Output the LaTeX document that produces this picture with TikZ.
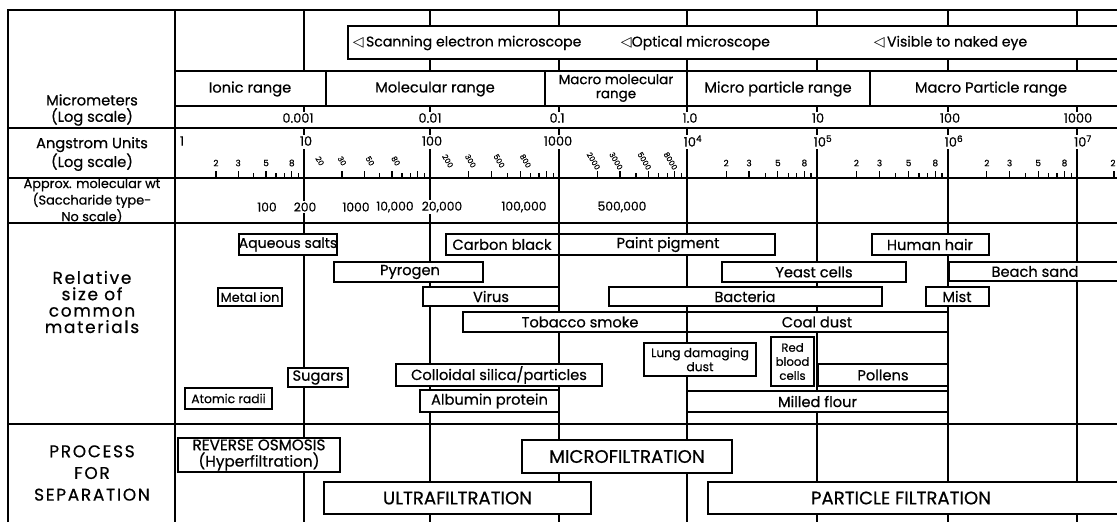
\documentclass[tikz,border=0pt]{standalone}
\usepackage{fontspec}
\setmainfont{Poppins}[FakeBold=0.6]
\newfontfamily\symfont{DejaVu Sans}
\newfontfamily\widefont{Poppins}[LetterSpace=10,FakeBold=0.6]

\begin{document}
\begin{tikzpicture}[x=0.03cm,y=-0.03cm,line width=1.5pt,
        every node/.style={inner sep=0pt,font=\fontsize{12.5}{14}\selectfont},
        lblsmall/.style={font=\fontsize{10.5}{12}\selectfont},
        lbltiny/.style={font=\fontsize{7.5}{8}\selectfont},
        scalelbl/.style={font=\fontsize{11}{12}\selectfont},
        molwt/.style={font=\fontsize{10.5}{12}\selectfont,fill=white,inner sep=1.5pt},
        procfont/.style={font=\fontsize{15.5}{18}\selectfont},
        sidehead/.style={align=center,font=\widefont\fontsize{14.5}{14}\selectfont}]
    \useasboundingbox (0,0) rectangle (1117,522);

    \draw (8,522) -- (8,10) -- (1117,10);
    \draw (175,10) -- (175,522);
    \draw (175,71) -- (1117,71);
    \draw (175,106) -- (1117,106);
    \draw (8,128) -- (1117,128);
    \draw (8,178) -- (1117,178);
    \draw (8,223) -- (1117,223);
    \draw (8,424) -- (1117,424);
    \draw (326,71) -- (326,106);
    \draw (545,71) -- (545,106);
    \draw (687,71) -- (687,106);
    \draw (870,71) -- (870,106);

    \foreach \x in {304,430,559,687,817,948,1077} {
        \draw (\x,10) -- (\x,71);
        \draw (\x,106) -- (\x,112);
        \draw (\x,128) -- (\x,135);
        \draw (\x,149) -- (\x,522);
    }

    \foreach \a/\b in {178/304,304/430,430/559,559/687,687/817,817/948,948/1077} {
        \foreach \k in {4,6,7,9}
            \draw[line width=1pt] ({\a+ln(\k)/ln(10)*(\b-\a)},178) -- ++(0,-5);
        \foreach \k in {2,3,5,8}
            \draw[line width=1pt] ({\a+ln(\k)/ln(10)*(\b-\a)},178) -- ++(0,-7);
    }
    \draw[line width=1pt] (1114,178) -- ++(0,-7);
    \foreach \a/\b in {178/304,687/817,817/948,948/1077}
        \foreach \k in {2,3,5,8}
            \node[lbltiny] (m\a\k) at ({\a+ln(\k)/ln(10)*(\b-\a)},163) {\k};
    \node[lbltiny] (m10772) at (1113,163) {2};
    \foreach \a/\b/\z/\s in {304/430/0/-22,430/559/00/-21,559/687/000/-4}
        \foreach \k in {2,3,5,8}
            \node[lbltiny,font=\fontsize{6.5}{7}\selectfont,rotate=-60] (r\a\k) at ({\a+ln(\k)/ln(10)*(\b-\a)+\s},161) {\k\z};

    \draw[fill=white] (348,26) rectangle (1125,59);
    \node[anchor=west,font=\fontsize{12}{14}\selectfont] (sem) at (352,43) {{\symfont ◁}\,Scanning electron microscope};
    \node[anchor=west,font=\fontsize{12}{14}\selectfont] (optical) at (620,43) {{\symfont ◁}Optical microscope};
    \node[anchor=west,font=\fontsize{12}{14}\selectfont] (naked) at (873,43) {{\symfont ◁}\,Visible to naked eye};

    \node (ionic) at (250,89) {Ionic range};
    \node (molecular) at (435,89) {Molecular range};
    \node[align=center,font=\fontsize{11.5}{12}\selectfont] (macromol) at (616,88) {Macro molecular\\range};
    \node (micropart) at (778,89) {Micro particle range};
    \node (macropart) at (991,89) {Macro Particle range};

    \node[scalelbl] (um1) at (298,118) {0.001};
    \node[scalelbl] (um2) at (430,118) {0.01};
    \node[scalelbl] (um3) at (557,118) {0.1};
    \node[scalelbl] (um4) at (690,118) {1.0};
    \node[scalelbl] (um5) at (818,118) {10};
    \node[scalelbl] (um6) at (950,118) {100};
    \node[scalelbl] (um7) at (1078,118) {1000};

    \node[scalelbl,anchor=west] (aa0) at (179,141) {1};
    \node[scalelbl] (aa1) at (306,141) {10};
    \node[scalelbl] (aa2) at (432,141) {100};
    \node[scalelbl] (aa3) at (558,141) {1000};
    \node[scalelbl] (aa4) at (693,141) {10\textsuperscript{4}};
    \node[scalelbl] (aa5) at (823,141) {10\textsuperscript{5}};
    \node[scalelbl] (aa6) at (954,141) {10\textsuperscript{6}};
    \node[scalelbl] (aa7) at (1083,141) {10\textsuperscript{7}};

    \node[molwt] (mw1) at (267,207) {100};
    \node[molwt] (mw2) at (305,207) {200};
    \node[molwt] (mw3) at (356,207) {1000};
    \node[molwt] (mw4) at (395,207) {10,000};
    \node[molwt] (mw5) at (442,207) {20,000};
    \node[molwt] (mw6) at (524,207) {100,000};
    \node[molwt] (mw7) at (622,207) {500,000};

    \node[align=center] (umhead) at (92,110) {Micrometers\\(Log scale)};
    \node[align=center] (aahead) at (92,154) {Angstrom Units\\(Log scale)};
    \node[align=center,font=\fontsize{11}{10}\selectfont] (mwhead) at (92,201) {Approx. molecular wt\\(Saccharide type-\\No scale)};
    \node[sidehead] (relhead) at (92,302) {Relative\\size of\\common\\materials};
    \node[sidehead,font=\widefont\fontsize{14.5}{18.5}\selectfont] (prochead) at (92,473) {PROCESS\\FOR\\SEPARATION};

    \draw[fill=white] (239,234) rectangle (337,255);
    \node[font=\fontsize{12}{14}\selectfont] (aqsalts) at (288,244.5) {Aqueous salts};
    \draw[fill=white] (446,234) rectangle (559,255);
    \node (carbon) at (502,244.5) {Carbon black};
    \draw[fill=white] (559,234) rectangle (775,255);
    \node (paint) at (668,244.5) {Paint pigment};
    \draw[fill=white] (872,234) rectangle (989,255);
    \node (hair) at (930,244.5) {Human hair};
    \draw[fill=white] (334,262) rectangle (483,282);
    \node (pyrogen) at (410,272) {Pyrogen};
    \draw[fill=white] (722,262) rectangle (906,282);
    \node (yeast) at (814,272) {Yeast cells};
    \draw[fill=white] (949,262) rectangle (1125,281);
    \node (sand) at (1035,271.5) {Beach sand};
    \draw[fill=white] (218,288) rectangle (282,306);
    \node[font=\fontsize{11}{12}\selectfont] (metalion) at (250,297) {Metal ion};
    \draw[fill=white] (423,287) rectangle (559,306);
    \node (virus) at (491,296.5) {Virus};
    \draw[fill=white] (609,287) rectangle (882,306);
    \node (bacteria) at (745,296.5) {Bacteria};
    \draw[fill=white] (926,287) rectangle (989,306);
    \node (mist) at (957,296.5) {Mist};
    \draw[fill=white] (463,312) rectangle (687,332);
    \node (tobacco) at (580,322) {Tobacco smoke};
    \draw[fill=white] (687,312) rectangle (948,332);
    \node (coal) at (817,322) {Coal dust};
    \draw[fill=white] (644,343) rectangle (756,376);
    \node[lblsmall,align=center] (lung) at (700,359.5) {Lung damaging\\dust};
    \draw[fill=white] (771,337) rectangle (814,386);
    \node[align=center,font=\fontsize{10}{12}\selectfont] (rbc) at (792.5,361.5) {Red\\blood\\cells};
    \draw[fill=white] (288,368) rectangle (348,387);
    \node (sugars) at (318,377.5) {Sugars};
    \draw[fill=white] (396,364) rectangle (602,386);
    \node (silica) at (499,375) {Colloidal silica/particles};
    \draw[fill=white] (818,364) rectangle (948,386);
    \node (pollens) at (883,375) {Pollens};
    \draw[fill=white] (185,388) rectangle (272,409);
    \node[font=\fontsize{10.5}{12}\selectfont] (atomic) at (228.5,398.5) {Atomic radii};
    \draw[fill=white] (420,390) rectangle (559,412);
    \node (albumin) at (489.5,401) {Albumin protein};
    \draw[fill=white] (687,391) rectangle (948,412);
    \node (flour) at (817.5,401.5) {Milled flour};

    \draw[fill=white] (178,438) rectangle (340,472);
    \node[align=center,font=\fontsize{13}{14}\selectfont] (ro) at (259,455) {REVERSE OSMOSIS\\(Hyperfiltration)};
    \draw[fill=white] (522,440) rectangle (732,473);
    \node[procfont] (mf) at (627,456.5) {MICROFILTRATION};
    \draw[fill=white] (324,482) rectangle (591,514);
    \node[procfont] (uf) at (457.5,498) {ULTRAFILTRATION};
    \draw[fill=white] (708,482) rectangle (1125,514);
    \node[procfont] (pf) at (901,498) {PARTICLE FILTRATION};
\end{tikzpicture}
\end{document}
